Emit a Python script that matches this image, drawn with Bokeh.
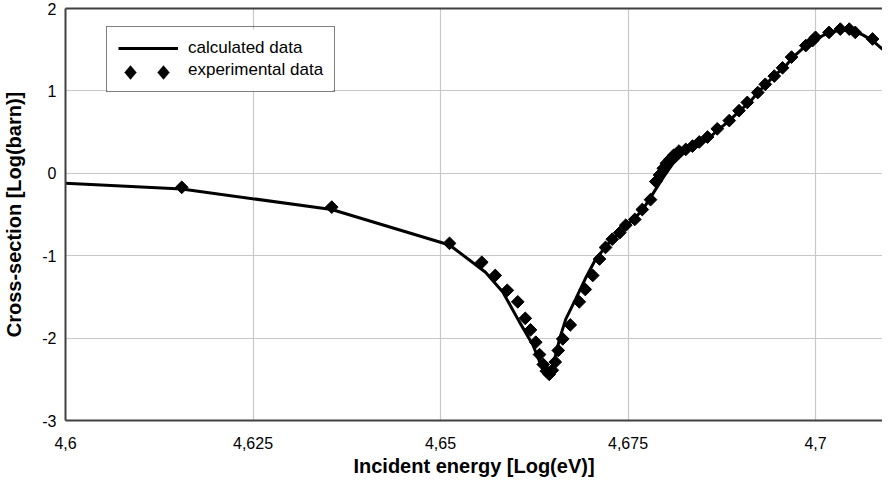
import math
from bokeh.plotting import figure
from bokeh.models import (FixedTicker, Legend, LegendItem, LinearAxis, Range1d,
                          PolyAnnotation, BoxAnnotation)
from bokeh.embed import file_html
from bokeh.resources import INLINE

# ---------------- data ----------------
calc_x = [4.6000, 4.6155, 4.6355, 4.6512, 4.6560, 4.6583, 4.6605, 4.6623, 4.6636, 4.6644,
          4.6650, 4.6659, 4.6667, 4.6680, 4.6693, 4.6707, 4.6725, 4.6747, 4.6769, 4.6783,
          4.6797, 4.6810, 4.6827, 4.6845, 4.6859, 4.6872, 4.6885, 4.6899, 4.6912, 4.6923,
          4.6936, 4.6947, 4.6959, 4.6969, 4.6985, 4.7000, 4.7019, 4.7035, 4.7049, 4.7063,
          4.7076, 4.7095]
calc_y = [-0.12, -0.19, -0.44, -0.87, -1.20, -1.44, -1.80, -2.08, -2.37, -2.44,
          -2.33, -2.00, -1.77, -1.53, -1.28, -1.04, -0.84, -0.65, -0.45, -0.25,
          -0.05, 0.12, 0.27, 0.35, 0.44, 0.54, 0.64, 0.76, 0.86, 0.98,
          1.10, 1.20, 1.29, 1.40, 1.53, 1.63, 1.71, 1.74, 1.73, 1.68,
          1.61, 1.46]

exp_x = [4.6155, 4.6355, 4.6512, 4.6555, 4.6573, 4.6589, 4.6603, 4.6613, 4.6620, 4.6627,
         4.6632, 4.6637, 4.6641, 4.6645, 4.6649, 4.6653, 4.6657, 4.6663, 4.6673, 4.6685,
         4.6693, 4.6703, 4.6712, 4.6720, 4.6729, 4.6739, 4.6747, 4.6759, 4.6769, 4.6780,
         4.6787, 4.6792, 4.6797, 4.6801, 4.6806, 4.6811, 4.6818, 4.6827, 4.6836, 4.6845,
         4.6856, 4.6869, 4.6885, 4.6898, 4.6909, 4.6923, 4.6933, 4.6945, 4.6956, 4.6968,
         4.6987, 4.6996, 4.7000, 4.7018, 4.7033, 4.7045, 4.7053, 4.7076]
exp_y = [-0.17, -0.41, -0.85, -1.08, -1.24, -1.42, -1.56, -1.76, -1.90, -2.05,
         -2.20, -2.32, -2.40, -2.44, -2.39, -2.29, -2.15, -2.01, -1.84, -1.56,
         -1.41, -1.24, -1.04, -0.90, -0.80, -0.72, -0.63, -0.56, -0.44, -0.32,
         -0.10, -0.02, 0.06, 0.12, 0.17, 0.22, 0.27, 0.29, 0.33, 0.38,
         0.44, 0.54, 0.64, 0.76, 0.86, 0.98, 1.08, 1.18, 1.28, 1.41,
         1.55, 1.61, 1.65, 1.71, 1.75, 1.75, 1.71, 1.63]

x_ticks = [4.6, 4.625, 4.65, 4.675, 4.7]
x_tick_labels = ["4,6", "4,625", "4,65", "4,675", "4,7"]
y_ticks = [-3, -2, -1, 0, 1, 2]
y_tick_labels = ["-3", "-2", "-1", "0", "1", "2"]

x_start, x_end = 4.6, 4.70893
y_start, y_end = -3, 2

FONT = "Liberation Sans"
AXIS_COL = "#404040"
GRID_COL = "#c8c8c8"

p = figure(frame_width=817, frame_height=412,
           min_border_left=65, min_border_right=0, min_border_top=8, min_border_bottom=66,
           x_range=Range1d(x_start, x_end), y_range=Range1d(y_start, y_end),
           output_backend="svg", toolbar_location=None,
           background_fill_color="white", border_fill_color="white")
p.outline_line_color = None

line_r = p.line(calc_x, calc_y, line_width=3, line_color="black")
pts_r = p.scatter(exp_x, exp_y, marker="square", angle=math.pi / 4, size=9,
                  fill_color="black", line_color="black")
blank_r = p.line([], [], line_alpha=0)

# axes
p.xaxis.ticker = FixedTicker(ticks=x_ticks)
p.xaxis.major_label_overrides = dict(zip(x_ticks, x_tick_labels))
p.yaxis.ticker = FixedTicker(ticks=y_ticks)
p.yaxis.major_label_overrides = dict(zip(y_ticks, y_tick_labels))
for ax in (p.xaxis, p.yaxis):
    ax.axis_line_color = AXIS_COL
    ax.axis_line_width = 2
    ax.major_tick_out = 0
    ax.major_tick_in = 0
    ax.minor_tick_out = 0
    ax.minor_tick_in = 0
    ax.major_label_text_font = FONT
    ax.major_label_text_font_size = "16px"
    ax.major_label_text_color = "black"
    ax.axis_label_text_font = FONT
    ax.axis_label_text_font_size = "20px"
    ax.axis_label_text_font_style = "bold"
    ax.axis_label_text_color = "black"
p.xaxis.axis_label = "Incident energy [Log(eV)]"
p.yaxis.axis_label = "Cross-section [Log(barn)]"
p.xaxis.major_label_standoff = 16
p.xaxis.axis_label_standoff = 3
p.yaxis.major_label_standoff = 9
p.yaxis.axis_label_standoff = 14

top_axis = LinearAxis(ticker=FixedTicker(ticks=[]), axis_line_color=AXIS_COL, axis_line_width=2,
                      major_tick_out=0, major_tick_in=0, minor_tick_out=0, minor_tick_in=0,
                      major_label_standoff=0, major_label_text_font_size="0px")
p.add_layout(top_axis, "above")

p.xgrid.ticker = FixedTicker(ticks=x_ticks)
p.ygrid.ticker = FixedTicker(ticks=y_ticks)
p.grid.grid_line_color = GRID_COL
p.grid.grid_line_width = 1.2

# white panel behind the legend so the grid lines do not show through it
p.add_layout(BoxAnnotation(left=42, right=267, bottom=329, top=391,
                           left_units="screen", right_units="screen",
                           bottom_units="screen", top_units="screen",
                           level="underlay", fill_color="white", fill_alpha=1.0,
                           line_alpha=0))

legend = Legend(items=[LegendItem(label="calculated data", renderers=[line_r]),
                       LegendItem(label="experimental data", renderers=[blank_r])],
                location=(41, 328), margin=0, padding=11, spacing=2,
                glyph_width=60, glyph_height=20, label_height=20, label_standoff=10,
                label_text_font=FONT, label_text_font_size="17px", label_text_color="black",
                border_line_color="black", border_line_width=1.3,
                background_fill_color="white", background_fill_alpha=0.0)
p.add_layout(legend, "center")

# two diamond symbols of the legend's "experimental data" sample (screen units, frame-relative)
for cx in (65, 98):
    cy = 348
    p.add_layout(PolyAnnotation(xs=[cx, cx + 6, cx, cx - 6], ys=[cy + 7, cy, cy - 7, cy],
                                xs_units="screen", ys_units="screen", level="overlay",
                                fill_color="black", fill_alpha=1.0,
                                line_color="black", line_width=1))

open("out.html", "w").write(file_html(p, INLINE))
